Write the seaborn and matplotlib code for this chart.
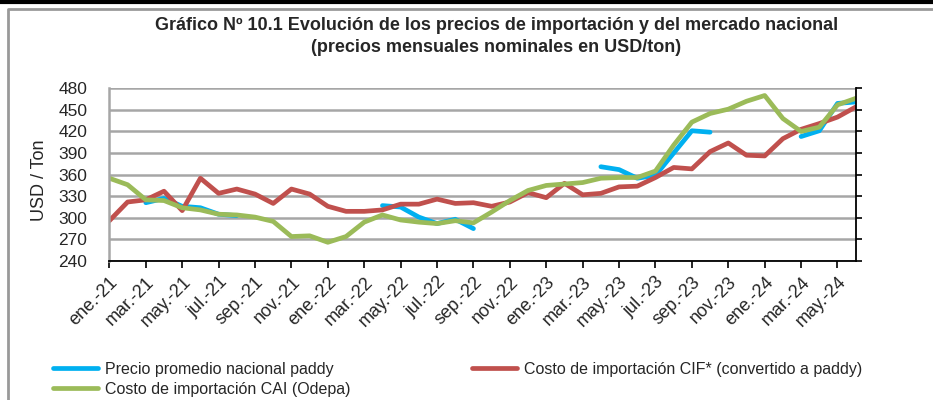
import numpy as np
import pandas as pd
import matplotlib.pyplot as plt
import seaborn as sns
from matplotlib.lines import Line2D

# meses ene-21 .. jun-24
meses = ['ene', 'feb', 'mar', 'abr', 'may', 'jun', 'jul', 'ago', 'sep', 'oct', 'nov', 'dic']
anios = ['21', '22', '23', '24']
etiquetas = [f"{m}.-{a}" for a in anios for m in meses][:42]

nan = np.nan
precio_nacional = [nan, nan, 321, 327, 316, 314, 305, 303, nan, nan, nan, nan,
                   nan, nan, nan, 317, 315, 301, 292, 298, 285, nan, nan, nan,
                   nan, nan, nan, 371, 367, 355, 359, 390, 421, 419, nan, nan,
                   nan, nan, 413, 421, 459, 461]
costo_cif = [296, 322, 325, 337, 310, 355, 334, 340, 333, 320, 340, 333,
             316, 309, 309, 311, 319, 319, 326, 320, 321, 316, 322, 335,
             328, 348, 332, 334, 343, 344, 356, 370, 368, 392, 404, 387,
             386, 410, 423, 431, 440, 454]
costo_cai = [355, 346, 325, 324, 314, 311, 305, 304, 301, 295, 274, 275,
             266, 274, 294, 304, 297, 294, 292, 296, 293, 308, 324, 338,
             345, 347, 349, 355, 356, 356, 365, 401, 433, 445, 451, 462,
             470, 438, 420, 426, 457, 466]

series = ['Precio promedio nacional paddy',
          'Costo de importación CIF* (convertido a paddy)',
          'Costo de importación CAI (Odepa)']
colores = ['#00B0F0', '#C0504D', '#9BBB59']

sns.set_style("white")
plt.rcParams['font.family'] = ['Liberation Sans', 'DejaVu Sans']

fig = plt.figure(figsize=(9.33, 4.0), dpi=100)
ax = fig.add_axes([109.4 / 933, 1 - 261 / 400, (855.7 - 109.4) / 933, (261 - 88.3) / 400])

for valores, color in zip([precio_nacional, costo_cif, costo_cai], colores):
    df = pd.DataFrame({'mes': range(len(valores)), 'valor': valores})
    df['tramo'] = df['valor'].isna().cumsum()
    df = df.dropna()
    sns.lineplot(data=df, x='mes', y='valor', units='tramo', estimator=None,
                 color=color, lw=3.4, ax=ax, legend=False)

ax.set_xlim(0, 41)
ax.set_ylim(240, 480)
ax.set_yticks(range(240, 481, 30))
ax.set_xticks(range(0, 42, 2))
ax.set_xticklabels(etiquetas[::2], rotation=45, ha='right', va='top',
                   rotation_mode='anchor', fontsize=13)
ax.yaxis.grid(True, color='#A6A6A6', lw=1.8)
ax.xaxis.grid(False)
ax.set_axisbelow(True)
ax.set_xlabel('')
ax.set_ylabel('')

ax.spines['top'].set_visible(False)
ax.spines['left'].set_color('#A6A6A6')
ax.spines['left'].set_linewidth(1.8)
ax.spines['bottom'].set_color('black')
ax.spines['bottom'].set_linewidth(1.3)
ax.spines['right'].set_color('black')
ax.spines['right'].set_linewidth(1.3)

ax.tick_params(axis='y', left=False, right=True, labelleft=True, labelright=False,
               direction='out', length=4, width=1.2, color='black', pad=12, labelsize=12.5)
ax.tick_params(axis='x', bottom=True, direction='out', length=5, width=1.2,
               color='black', pad=4)

fig.text(40 / 933, 1 - 180 / 400, 'USD / Ton', rotation=90, ha='center', va='center', fontsize=13)

fig.text(0.532, 1 - 25 / 400, 'Gráfico Nº 10.1 Evolución de los precios de importación y del mercado nacional',
         ha='center', va='center', fontsize=13, fontweight='bold')
fig.text(0.532, 1 - 47 / 400, '(precios mensuales nominales en USD/ton)',
         ha='center', va='center', fontsize=13, fontweight='bold')

# legend: fila 1 azul / rojo, fila 2 verde
handles = [Line2D([], [], color=colores[0], lw=3.4, label=series[0]),
           Line2D([], [], color=colores[2], lw=3.4, label=series[2]),
           Line2D([], [], color=colores[1], lw=3.4, label=series[1])]
fig.legend(handles=handles, ncol=2, loc='upper left', bbox_to_anchor=(53 / 933, 1 - 362 / 400),
           frameon=False, fontsize=11.5, handlelength=2.8, handletextpad=0.45,
           columnspacing=7.6, labelspacing=0.3, borderpad=0, borderaxespad=0)

# marco
fig.add_artist(Line2D([8 / 933, 8 / 933, 1], [0, 1 - 9 / 400, 1 - 9 / 400],
                      transform=fig.transFigure, color='#999999', lw=2))
fig.add_artist(Line2D([0, 1], [1 - 2 / 400, 1 - 2 / 400],
                      transform=fig.transFigure, color='black', lw=3))

fig.savefig('out.png', dpi=100)
